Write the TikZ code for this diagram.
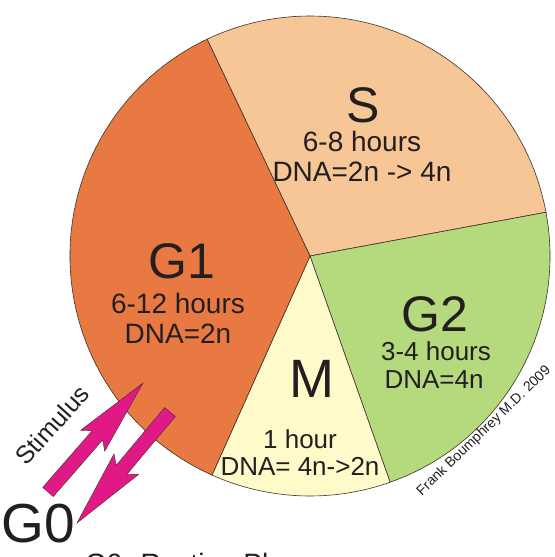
\documentclass[tikz,border=0pt]{standalone}
\usepackage{fontspec}
\setmainfont{Liberation Sans}
\usetikzlibrary{calc}
\definecolor{gone}{RGB}{233,121,67}
\definecolor{sphase}{RGB}{246,198,150}
\definecolor{gtwo}{RGB}{180,218,125}
\definecolor{mphase}{RGB}{255,250,202}
\definecolor{magent}{RGB}{225,25,135}
\definecolor{edgec}{RGB}{60,50,40}
\definecolor{txt}{RGB}{35,31,32}
\tikzset{
  wedge/.style={draw=edgec, line width=0.6bp},
  big/.style={text=txt, anchor=base, inner sep=0pt, font=\fontsize{50bp}{60bp}\selectfont},
  small/.style={text=txt, anchor=base, inner sep=0pt, font=\fontsize{28bp}{32bp}\selectfont},
  smaller/.style={text=txt, anchor=base, inner sep=0pt, font=\fontsize{26bp}{30bp}\selectfont},
  blockarrow/.style={fill=magent, draw=edgec, line width=0.4bp, line join=miter}
}
\begin{document}
\begin{tikzpicture}[x=1bp, y=-1bp]
\useasboundingbox (0,0) rectangle (555,557);
\clip (0,0) rectangle (555,557);
\coordinate (c) at (310,256);
% wedges (image angles, y down)
\filldraw[wedge, fill=sphase] (c) -- ++(-115.4:240) arc[start angle=-115.4, end angle=-10.5, radius=240] -- cycle;
\filldraw[wedge, fill=gtwo] (c) -- ++(-10.5:240) arc[start angle=-10.5, end angle=70.5, radius=240] -- cycle;
\filldraw[wedge, fill=mphase] (c) -- ++(70.5:240) arc[start angle=70.5, end angle=114.1, radius=240] -- cycle;
\filldraw[wedge, fill=gone] (c) -- ++(114.1:240) arc[start angle=114.1, end angle=244.6, radius=240] -- cycle;
% S
\node[big] (S) at (363,123) {S};
\node[small] (Sh) at (362,152) {6-8 hours};
\node[small] (Sd) at (362,182) {DNA=2n -> 4n};
% G1
\node[big] (G1) at (182,278) {G1};
\node[small] (G1h) at (178,313) {6-12 hours};
\node[small] (G1d) at (178,343) {DNA=2n};
% G2
\node[big] (G2) at (435,331) {G2};
\node[smaller] (G2h) at (436,360) {3-4 hours};
\node[smaller] (G2d) at (434,388) {DNA=4n};
% M
\node[big, font=\fontsize{54bp}{60bp}\selectfont] (M) at (312,397) {M};
\node[smaller] (Mh) at (300,448) {1 hour};
\node[smaller] (Md) at (300,475) {DNA= 4n->2n};
% watermark
\node[text=txt, inner sep=0pt, rotate=44, font=\fontsize{14bp}{16bp}\selectfont] (wm) at (484,431) {Frank Boumphrey M.D. 2009};
% arrows
\coordinate (t1) at (48,492);
\coordinate (p1) at (143,383);
\coordinate (t2) at (170,412);
\coordinate (p2) at (77,523);
\foreach \T/\P in {t1/p1, t2/p2}{
  \coordinate (h) at ($(\T)!0.52!(\P)$);
  \coordinate (b) at ($(\T)!0.47!(\P)$);
  \filldraw[blockarrow]
    ($(\T)!7bp!90:(\P)$) -- ($(h)!7bp!90:(\P)$) -- ($(b)!16bp!90:(\P)$) -- (\P)
    -- ($(b)!16bp!-90:(\P)$) -- ($(h)!7bp!-90:(\P)$) -- ($(\T)!7bp!-90:(\P)$) -- cycle;
}
% labels
\node[text=txt, inner sep=0pt, rotate=48, font=\fontsize{25bp}{30bp}\selectfont] (stim) at (52,425) {Stimulus};
\node[text=txt, anchor=base, inner sep=0pt, font=\fontsize{55bp}{60bp}\selectfont] (G0) at (38,542) {G0};
\node[text=txt, anchor=base west, inner sep=0pt, font=\fontsize{28bp}{32bp}\selectfont] (rest) at (85,573) {G0: Resting Phase};
\end{tikzpicture}
\end{document}
